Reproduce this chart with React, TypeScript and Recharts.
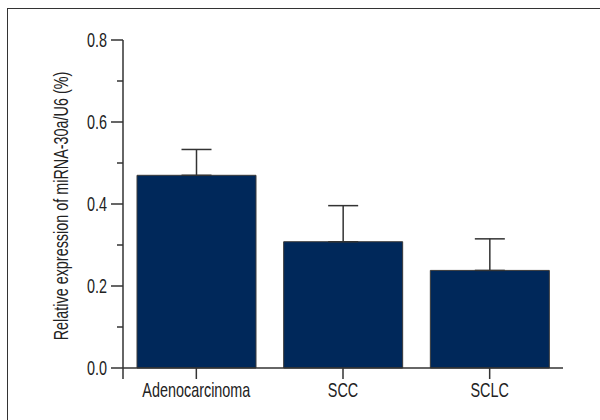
import { BarChart, Bar, XAxis, YAxis, ErrorBar, Label, usePlotArea } from "recharts"

const groups = ["Adenocarcinoma", "SCC", "SCLC"]
const expression = [0.47, 0.308, 0.238]
const sem = [0.063, 0.088, 0.077]
const yTicks = [0, 0.1, 0.2, 0.3, 0.4, 0.5, 0.6, 0.7, 0.8]

const data = groups.map((group, i) => ({ group, value: expression[i], err: [0, sem[i]] }))

// no condensed face installed, so squeeze a regular sans horizontally
const FONT = "'Liberation Sans', Arial, sans-serif"
const FONT_SIZE = 20
const SQUEEZE = 0.72
const INK = "#333"
const TEXT = "#222"

function NarrowText({ x, y, anchor, dy, rotate, children }: any) {
  const t = `translate(${x},${y})${rotate ? ` rotate(${rotate})` : ""} scale(${SQUEEZE},1)`
  return (
    <text transform={t} textAnchor={anchor} dy={dy} fontSize={FONT_SIZE} fontFamily={FONT} fill={TEXT}>
      {children}
    </text>
  )
}

// major ticks get a label, the in-between ones are short and unlabeled
function YTick({ x, y, payload, index }: any) {
  const major = index % 2 === 0
  const axisX = x + 16
  return (
    <g>
      <line x1={major ? axisX - 12 : axisX - 6} x2={axisX} y1={y} y2={y} stroke={INK} strokeWidth={1.5} />
      {major && (
        <NarrowText x={x} y={y} anchor="end" dy="0.36em">
          {payload.value.toFixed(1)}
        </NarrowText>
      )}
    </g>
  )
}

function XTick({ x, y, payload }: any) {
  return (
    <NarrowText x={x} y={y} anchor="middle" dy="0.71em">
      {payload.value}
    </NarrowText>
  )
}

function YTitle({ viewBox }: any) {
  const { x, y, height } = viewBox
  return (
    <NarrowText x={x + 60} y={y + height / 2 + 2} anchor="middle" rotate={-90}>
      Relative expression of miRNA-30a/U6 (%)
    </NarrowText>
  )
}

// y axis runs a tick-length below the x axis
function AxisFoot() {
  const area = usePlotArea()
  if (!area) return null
  const bottom = area.y + area.height
  return <line x1={area.x} x2={area.x} y1={bottom} y2={bottom + 11} stroke={INK} strokeWidth={1.5} />
}

export default function App() {
  return (
    <div style={{ position: "absolute", left: 0, top: 0, width: 600, height: 420, background: "#fff" }}>
      <div
        style={{
          position: "absolute",
          left: 7,
          top: 8,
          right: 0,
          bottom: 0,
          borderLeft: "1.5px solid #333",
          borderTop: "1.5px solid #333",
        }}
      />
      <BarChart
        width={600}
        height={420}
        data={data}
        margin={{ top: 40, right: 37, left: 8, bottom: 11 }}
        style={{ position: "absolute", left: 0, top: 0 }}
      >
        <XAxis
          dataKey="group"
          height={41}
          tickSize={11}
          tickMargin={4}
          axisLine={{ stroke: INK, strokeWidth: 1.5 }}
          tickLine={{ stroke: INK, strokeWidth: 1.5 }}
          tick={<XTick />}
        />
        <YAxis
          width={115}
          domain={[0, 0.8]}
          ticks={yTicks}
          interval={0}
          tickSize={12}
          tickMargin={4}
          tickLine={false}
          axisLine={{ stroke: INK, strokeWidth: 1.5 }}
          tick={<YTick />}
        >
          <Label content={<YTitle />} />
        </YAxis>
        <Bar dataKey="value" barSize={119} fill="#00285a" stroke="#3a3a3a" strokeWidth={1} isAnimationActive={false}>
          <ErrorBar dataKey="err" width={15} stroke={INK} strokeWidth={1.5} direction="y" />
        </Bar>
        <AxisFoot />
      </BarChart>
    </div>
  )
}
